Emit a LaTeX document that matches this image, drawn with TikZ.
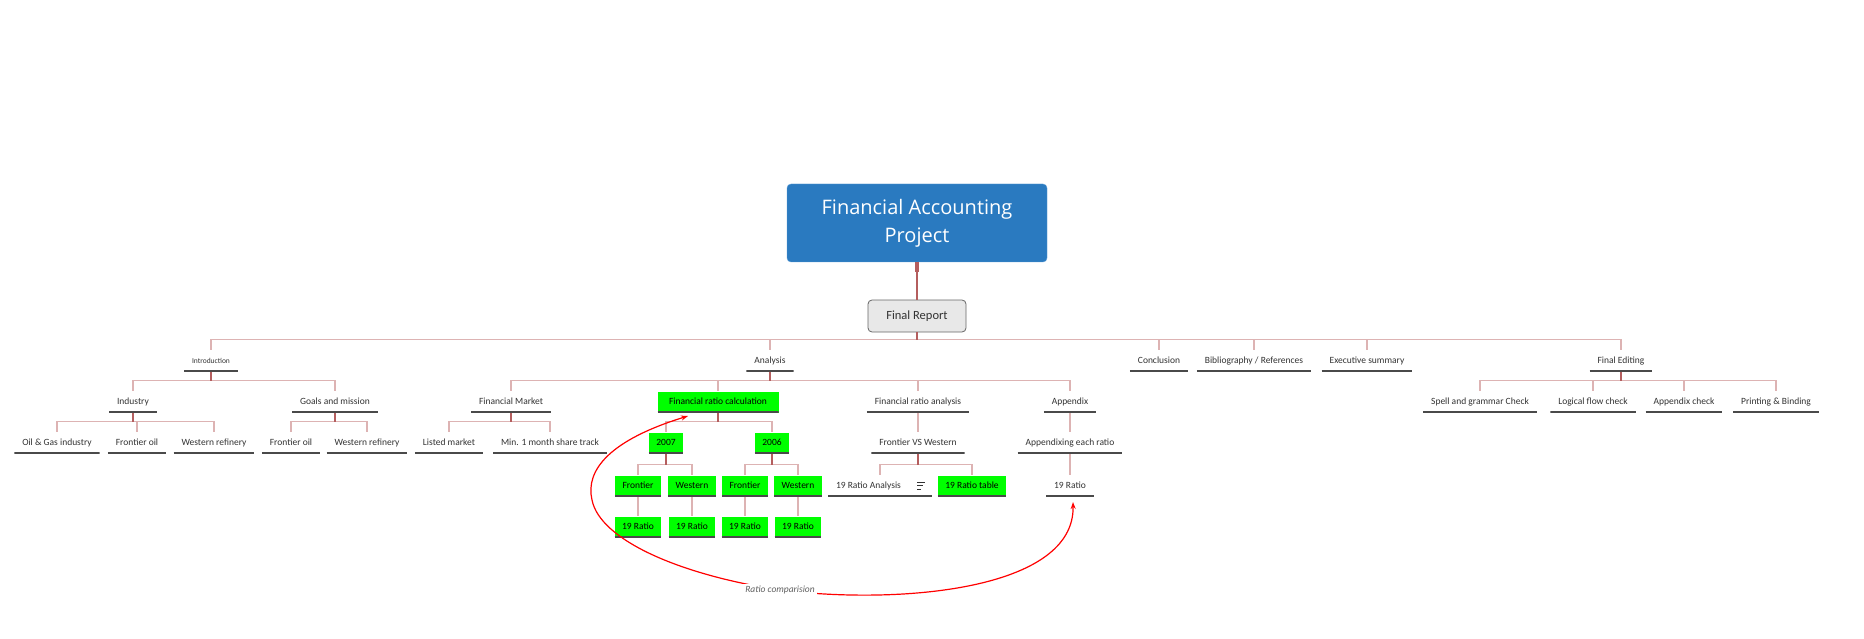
\documentclass[tikz,border=0pt]{standalone}
\usepackage{fontspec}
\setmainfont{Carlito}
\newfontfamily\titlefont{Open Sans}
\usetikzlibrary{calc,graphs,arrows.meta}

\definecolor{hubblue}{HTML}{2A7AC0}
\definecolor{hubedge}{HTML}{5B9BD5}
\definecolor{reportgray}{HTML}{E8E8E8}
\definecolor{linkpink}{HTML}{DDB3B3}
\definecolor{stemred}{HTML}{B45E5E}
\definecolor{ulgray}{HTML}{4A4A4A}
\definecolor{txtgray}{HTML}{333333}
\definecolor{ratiogreen}{HTML}{00FF00}

\tikzset{
  hub/.style={fill=hubblue, draw=hubedge, rounded corners=4pt,
    minimum width=260pt, minimum height=78pt, align=center, text=white,
    font=\titlefont\fontsize{20}{28}\selectfont},
  reportbox/.style={fill=reportgray, draw=gray!80!black, line width=0.8pt,
    rounded corners=4pt, minimum width=98pt, minimum height=32pt,
    text=txtgray, font=\fontsize{12.5}{14}\selectfont},
  topic/.style={anchor=south, fill=white, inner xsep=8pt, inner ysep=6pt,
    text height=7pt, text depth=2.2pt, text=txtgray,
    font=\fontsize{9.5}{11}\selectfont,
    path picture={\draw[ulgray, line width=3pt]   % half of it is clipped away
      (path picture bounding box.south west) -- (path picture bounding box.south east);}},
  greentopic/.style={topic, fill=ratiogreen, inner xsep=7.5pt, text=black},
  elbow/.style={draw=linkpink, line width=1.1pt,
    to path={let \p1=(\tikztostart.south), \p2=(\tikztotarget.north) in
      (\tikztostart) -- ({\x1},{\y2+10.5pt}) -- ({\x2},{\y2+10.5pt})
      [rounded corners=4pt] -- (\tikztotarget)}},
  vline/.style={to path={(\tikztostart) -- (\tikztotarget)}},
  stem/.style={draw=stemred, line width=1.2pt},
  compare/.style={draw=red, line width=1.2pt},
  ratiolabel/.style={fill=white, inner sep=2pt, text=gray!75!black,
    font=\itshape\fontsize{9.5}{11}\selectfont},
}

\begin{document}
\begin{tikzpicture}[x=1pt, y=-1pt]
\useasboundingbox (0,0) rectangle (1864,639);

\graph [no placement, edges={elbow}]
{
  root[hub, at={(917,223)}, as={Financial Accounting\\Project}]
    --[vline, stemred] report[reportbox, at={(917,316)}, as={Final Report}]
    -- {
      intro[topic, font=\fontsize{7.5}{9}\selectfont, at={(211,372)}, as=Introduction] -- {
        industry[topic, at={(133,413)}, as=Industry] -- {
          oilgas[topic, at={(57,454)}, as={Oil \& Gas industry}],
          fo1[topic, at={(137,454)}, as={Frontier oil}],
          wr1[topic, at={(214,454)}, as={Western refinery}]
        },
        goals[topic, at={(335,413)}, as={Goals and mission}] -- {
          fo2[topic, at={(291,454)}, as={Frontier oil}],
          wr2[topic, at={(367,454)}, as={Western refinery}]
        }
      },
      analysis[topic, at={(770,372)}, as=Analysis] -- {
        fmarket[topic, at={(511,413)}, as={Financial Market}] -- {
          listed[topic, at={(449,454)}, as={Listed market}],
          sharetrack[topic, at={(550,454)}, as={Min. 1 month share track}]
        },
        frcalc[greentopic, minimum width=121pt, at={(718,413)}, as={Financial ratio calculation}] -- {
          y2007[greentopic, at={(666,454)}, as=2007] -- {
            fr7[greentopic, at={(638,497)}, as=Frontier] --[vline] r7f[greentopic, at={(638,538)}, as={19 Ratio}],
            we7[greentopic, at={(692,497)}, as=Western] --[vline] r7w[greentopic, at={(692,538)}, as={19 Ratio}]
          },
          y2006[greentopic, at={(772,454)}, as=2006] -- {
            fr6[greentopic, at={(745,497)}, as=Frontier] --[vline] r6f[greentopic, at={(745,538)}, as={19 Ratio}],
            we6[greentopic, at={(798,497)}, as=Western] --[vline] r6w[greentopic, at={(798,538)}, as={19 Ratio}]
          }
        },
        fra[topic, at={(918,413)}, as={Financial ratio analysis}]
          --[vline] fvw[topic, at={(918,454)}, as={Frontier VS Western}] -- {
            rra[topic, at={(880,497)}, as={\makebox[88pt][l]{19 Ratio Analysis}}],
            rtable[greentopic, at={(972,497)}, as={19 Ratio table}]
          },
        appendix[topic, at={(1070,413)}, as=Appendix]
          --[vline] appx[topic, at={(1070,454)}, as={Appendixing each ratio}]
          --[vline] aratio[topic, at={(1070,497)}, as={19 Ratio}]
      },
      concl[topic, at={(1159,372)}, as=Conclusion],
      biblio[topic, at={(1254,372)}, as={Bibliography / References}],
      execsum[topic, at={(1367,372)}, as={Executive summary}],
      fedit[topic, at={(1621,372)}, as={Final Editing}] -- {
        spell[topic, at={(1480,413)}, as={Spell and grammar Check}],
        logical[topic, at={(1593,413)}, as={Logical flow check}],
        appcheck[topic, at={(1684,413)}, as={Appendix check}],
        printing[topic, at={(1776,413)}, as={Printing \& Binding}]
      }
    }
};

% darker stems from each parent down to its bus
\foreach \p/\c in {report/analysis, intro/industry, industry/oilgas, goals/fo2,
    analysis/fmarket, fmarket/listed, frcalc/y2007, y2007/fr7, y2006/fr6,
    fvw/rra, fedit/spell}
  \draw[stem] (\p.south) -- ([yshift=10.5pt]\c.north -| \p.south);
\draw[stemred, line width=4pt] (root.south) -- ++(0,10);

% notes icon
\foreach \dy/\len in {14.5/8, 11.3/6, 8.1/4}
  \draw[txtgray, line width=0.8pt] ([xshift=-15pt, yshift=\dy pt]rra.south east) -- ++(\len,0);

% ratio comparison link
\draw[compare, {Stealth[length=7pt,width=5pt]}-{Stealth[length=7pt,width=5pt]}]
  ([shift={(-30,3)}]frcalc.south) .. controls (610,440) and (585,470) .. (592,500)
  .. controls (600,540) and (680,575) .. (780,590) node[ratiolabel] {Ratio comparision}
  .. controls (900,605) and (1075,590) .. ([shift={(3,5)}]aratio.south);
\end{tikzpicture}
\end{document}
